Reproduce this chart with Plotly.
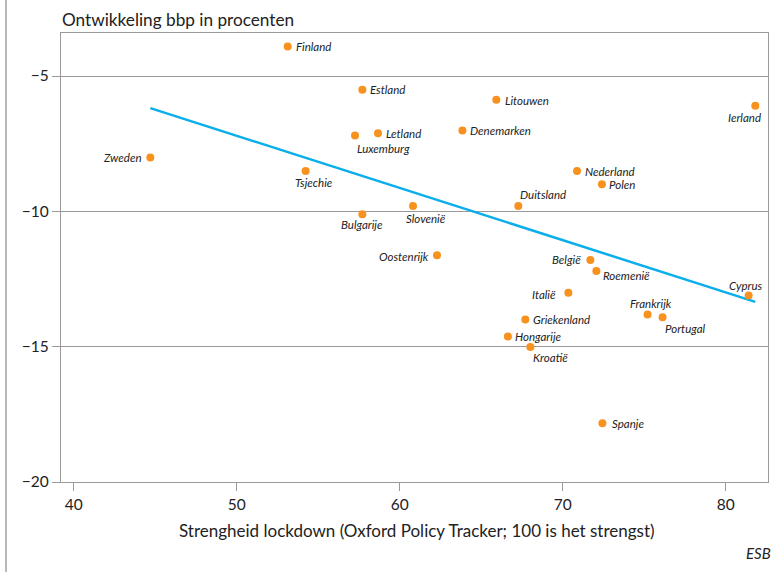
import numpy as np
import plotly.graph_objects as go

# ---- data ----
countries = ["Finland", "Estland", "Luxemburg", "Letland", "Zweden", "Tsjechie",
             "Litouwen", "Denemarken", "Ierland", "Nederland", "Polen", "Duitsland",
             "Slovenië", "Bulgarije", "Oostenrijk", "België", "Roemenië", "Italië",
             "Cyprus", "Frankrijk", "Portugal", "Griekenland", "Hongarije", "Kroatië",
             "Spanje"]
lockdown = [53.13, 57.71, 57.26, 58.67, 44.70, 54.23,
            65.93, 63.85, 81.82, 70.88, 72.41, 67.28,
            60.82, 57.71, 62.29, 71.70, 72.07, 70.35,
            81.41, 75.21, 76.13, 67.71, 66.64, 68.02,
            72.44]
gdp = [-3.91, -5.51, -7.20, -7.11, -8.01, -8.51,
       -5.88, -7.01, -6.10, -8.51, -9.00, -9.80,
       -9.80, -10.11, -11.62, -11.80, -12.20, -13.01,
       -13.11, -13.81, -13.91, -14.00, -14.62, -15.01,
       -17.83]
y_ticks = [-20, -15, -10, -5]
x_ticks = [40, 50, 60, 70, 80]

# label placement: (xanchor, xshift px, yshift px)
label_pos = {
    "Finland": ("left", 6, 0), "Estland": ("left", 6, 0),
    "Luxemburg": ("left", 0, -13), "Letland": ("left", 6, 0),
    "Zweden": ("right", -6, 0), "Tsjechie": ("center", 8, -11),
    "Litouwen": ("left", 7, -1), "Denemarken": ("left", 6, 0),
    "Ierland": ("right", 8, -12), "Nederland": ("left", 6, 0),
    "Polen": ("left", 5, 0), "Duitsland": ("left", 0, 11),
    "Slovenië": ("center", 13, -13), "Bulgarije": ("center", 0, -10),
    "Oostenrijk": ("right", -6, -1), "België": ("right", -7, 1),
    "Roemenië": ("left", 5, -5), "Italië": ("right", -10, -2),
    "Cyprus": ("center", -3, 10), "Frankrijk": ("center", 3, 11),
    "Portugal": ("left", 0, -11), "Griekenland": ("left", 6, 0),
    "Hongarije": ("left", 5, 0), "Kroatië": ("left", 1, -11),
    "Spanje": ("left", 8, 0),
}

ORANGE = "#F7921E"
BLUE = "#0AAEEA"
GRID = "#9a9a9a"
TXT = "#222222"
FONT = "Lato"

x = np.array(lockdown)
y = np.array(gdp)
slope, intercept = np.polyfit(x, y, 1)
xl = np.array([x.min(), x.max()])
yl = slope * xl + intercept

fig = go.Figure()
fig.add_trace(go.Scatter(x=xl, y=yl, mode="lines",
                         line=dict(color=BLUE, width=2.5), hoverinfo="skip"))
fig.add_trace(go.Scatter(x=lockdown, y=gdp, mode="markers", text=countries,
                         marker=dict(color=ORANGE, size=8, line=dict(width=0))))

ann = []
for c, xv, yv in zip(countries, lockdown, gdp):
    xa, xs, ys = label_pos[c]
    ann.append(dict(x=xv, y=yv, text=c, showarrow=False, xanchor=xa, yanchor="middle",
                    xshift=xs, yshift=ys,
                    font=dict(family=FONT, size=11.5, color=TXT, style="italic")))

ann.append(dict(xref="paper", yref="paper", x=-0.002, y=1.031, xanchor="left",
                yanchor="middle", showarrow=False, text="Ontwikkeling bbp in procenten",
                font=dict(family=FONT, size=17.2, color=TXT)))
ann.append(dict(xref="paper", yref="paper", x=0.504, y=-0.107, xanchor="center",
                yanchor="middle", showarrow=False,
                text="Strengheid lockdown (Oxford Policy Tracker; 100 is het strengst)",
                font=dict(family=FONT, size=17, color=TXT)))
ann.append(dict(xref="paper", yref="paper", x=1.007, y=-0.158, xanchor="right",
                yanchor="middle", showarrow=False, text="ESB",
                font=dict(family=FONT, size=15, color=TXT, style="italic")))

fig.update_layout(
    width=779, height=572,
    margin=dict(l=61, r=11, t=33, b=90),
    paper_bgcolor="white", plot_bgcolor="white",
    showlegend=False,
    annotations=ann,
    shapes=[dict(type="line", xref="paper", yref="paper",
                 x0=-0.0778, x1=-0.0778, y0=-0.3, y1=1.1,
                 line=dict(color="#8a8a8a", width=1.2))],
)
fig.update_xaxes(range=[39.22, 82.6], tickvals=x_ticks, ticks="outside", ticklen=8,
                 tickcolor=GRID, showgrid=False, zeroline=False,
                 showline=True, linecolor=GRID, linewidth=1.2, mirror=True,
                 tickfont=dict(family=FONT, size=15.5, color=TXT))
fig.update_yaxes(range=[-20, -3.41], tickvals=y_ticks, ticks="outside", ticklen=8,
                 tickcolor=GRID, showgrid=True, gridcolor=GRID, gridwidth=1.2,
                 zeroline=False, showline=True, linecolor=GRID, linewidth=1.2,
                 mirror=True, tickfont=dict(family=FONT, size=15.5, color=TXT))

fig.write_html("out.html", config={"displayModeBar": False},
               post_script="document.body.style.margin='0';")
